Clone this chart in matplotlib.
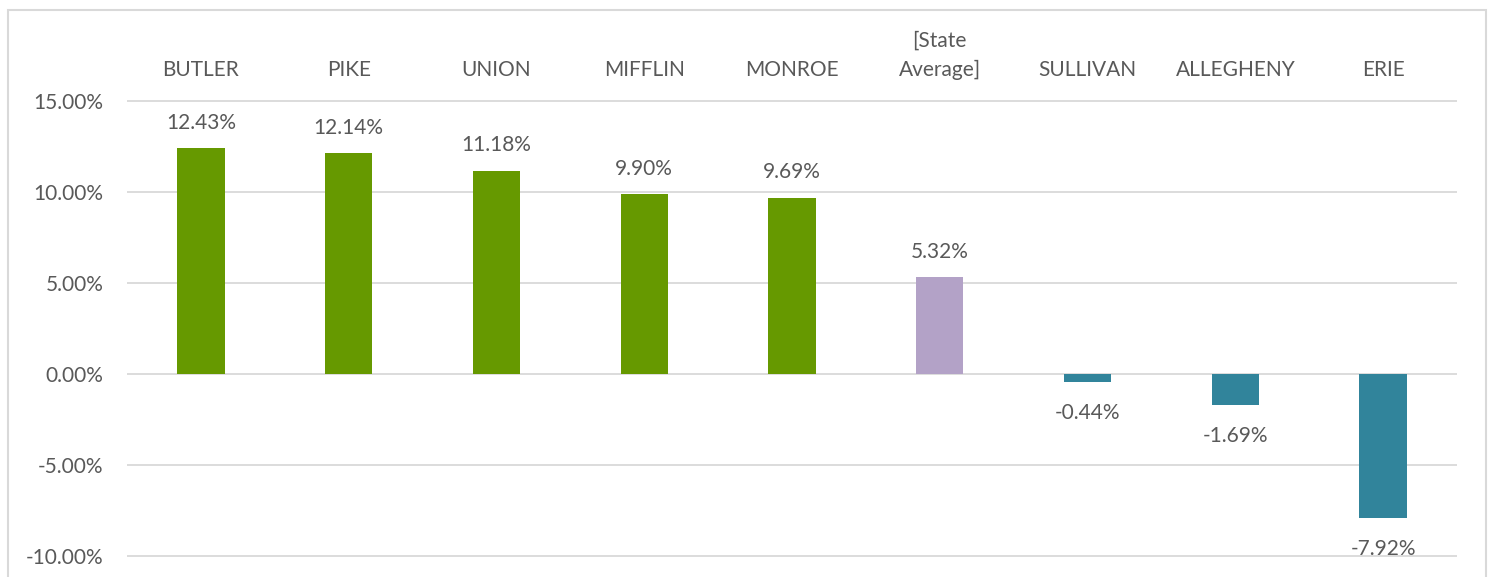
import matplotlib
matplotlib.use("Agg")
import matplotlib.pyplot as plt
from matplotlib.patches import Rectangle

counties = ["BUTLER", "PIKE", "UNION", "MIFFLIN", "MONROE", "[State\nAverage]",
            "SULLIVAN", "ALLEGHENY", "ERIE"]
values = [12.43, 12.14, 11.18, 9.90, 9.69, 5.32, -0.44, -1.69, -7.92]
bar_colors = ["#669900"] * 5 + ["#B3A2C7"] + ["#31849B"] * 3
yticks = [-10, -5, 0, 5, 10, 15]

plt.rcParams["font.family"] = ["Lato", "DejaVu Sans"]
text_color = "#595959"

W, H = 1493, 577
fig = plt.figure(figsize=(W / 100, H / 100), dpi=100)
ax = fig.add_axes([127 / W, 0, (1457 - 127) / W, 1 - 10 / H])

x = list(range(len(values)))
ax.bar(x, values, width=0.32, color=bar_colors, zorder=3)

ax.set_xlim(-0.5, len(values) - 0.5)
ax.set_ylim(-11.15, 20)
ax.set_yticks(yticks)
ax.set_yticklabels([f"{v:.2f}%" for v in yticks], color=text_color, fontsize=15)
ax.tick_params(axis="y", length=0, pad=17)
ax.set_xticks([])
ax.grid(axis="y", color="#D9D9D9", linewidth=1.3, zorder=0)
for s in ax.spines.values():
    s.set_visible(False)

# category labels sit at the top of the plot
for xi, name in zip(x, counties):
    ax.text(xi, 16.15, name, ha="center", va="bottom", color=text_color,
            fontsize=15, linespacing=1.6)

# data labels
for xi, v in zip(x, values):
    off = 11 if v >= 0 else -15
    ax.annotate(f"{v:.2f}%", (xi, v), xytext=(0, off), textcoords="offset points",
                ha="center", va="bottom" if v >= 0 else "top",
                color=text_color, fontsize=15)

# chart border
fig.patches.append(Rectangle((8 / W, -0.1), (1486 - 8) / W, 1.1 - 10 / H,
                             transform=fig.transFigure, fill=False,
                             edgecolor="#D9D9D9", linewidth=1.5))

fig.savefig("out.png", dpi=100)
